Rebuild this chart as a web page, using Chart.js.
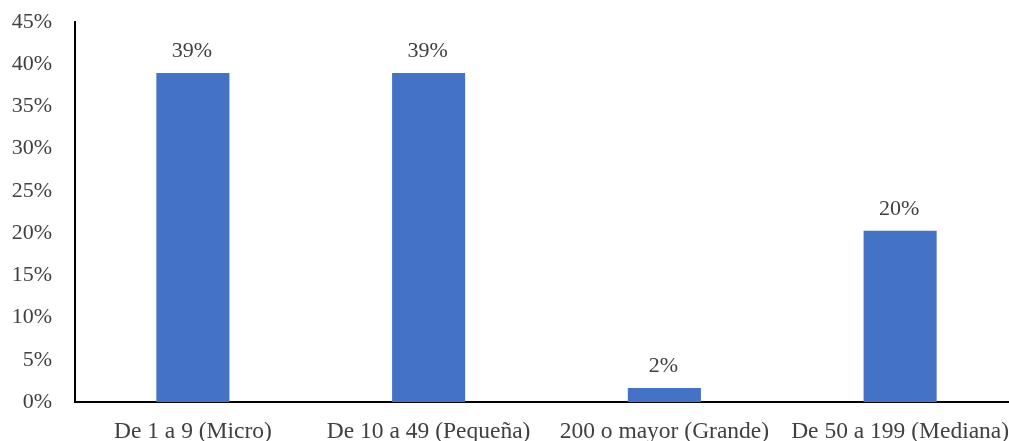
<!DOCTYPE html>
<html>
<head>
<meta charset="utf-8">
<script src="https://cdn.jsdelivr.net/npm/chart.js@4.4.1/dist/chart.umd.min.js"></script>
<style>
  html, body { margin: 0; padding: 0; background: #ffffff; overflow: hidden; }
  #wrap { width: 1018px; height: 441px; }
</style>
</head>
<body>
<div id="wrap"><canvas id="chart" width="1018" height="441"></canvas></div>
<script>
// Company size categories and their share of the total
const categories = ['De 1 a 9 (Micro)', 'De 10 a 49 (Pequeña)', '200 o mayor (Grande)', 'De 50 a 199 (Mediana)'];
const shares = [38.97, 38.97, 1.65, 20.28];
const yTicks = [0, 5, 10, 15, 20, 25, 30, 35, 40, 45];

const textColor = '#404040';
const fontFamily = '"Liberation Serif", "Times New Roman", serif';

// Writes the rounded percentage above each bar
const valueLabels = {
  id: 'valueLabels',
  afterDatasetsDraw(chart) {
    const ctx = chart.ctx;
    const meta = chart.getDatasetMeta(0);
    ctx.save();
    ctx.fillStyle = textColor;
    ctx.font = '22px ' + fontFamily;
    ctx.textAlign = 'center';
    ctx.textBaseline = 'alphabetic';
    meta.data.forEach((bar, i) => {
      ctx.fillText(Math.round(shares[i]) + '%', bar.x - 1, bar.y - 16);
    });
    ctx.restore();
  }
};

new Chart(document.getElementById('chart'), {
  type: 'bar',
  data: {
    labels: categories,
    datasets: [{
      data: shares,
      backgroundColor: '#4472C4',
      borderWidth: 0,
      barPercentage: 0.31,
      categoryPercentage: 1.0
    }]
  },
  options: {
    responsive: false,
    animation: false,
    layout: { padding: { top: 22, left: 0, right: 0, bottom: 0 } },
    plugins: { legend: { display: false }, tooltip: { enabled: false } },
    scales: {
      x: {
        grid: { display: false, drawTicks: false },
        border: { display: true, color: '#000000', width: 2 },
        ticks: { color: textColor, font: { family: fontFamily, size: 23.5 }, padding: 16, maxRotation: 0, autoSkip: false },
        afterFit(scale) {
          scale.height = 39;
          scale.paddingLeft = 0;
          scale.paddingRight = 0;
        }
      },
      y: {
        min: 0,
        max: 45,
        afterBuildTicks(scale) { scale.ticks = yTicks.map(v => ({ value: v })); },
        grid: { display: false, drawTicks: false },
        border: { display: true, color: '#000000', width: 2 },
        ticks: {
          color: textColor,
          font: { family: fontFamily, size: 22 },
          padding: 23,
          callback: v => v + '%'
        },
        afterFit(scale) {
          scale.width = 75;
          scale.paddingTop = 0;
          scale.paddingBottom = 0;
        }
      }
    }
  },
  plugins: [valueLabels]
});
</script>
</body>
</html>
